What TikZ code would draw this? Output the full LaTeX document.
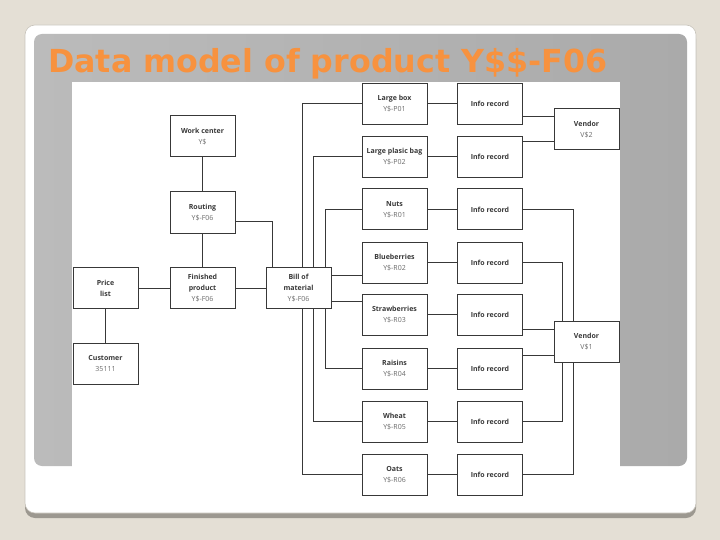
\documentclass[tikz,border=0pt]{standalone}
\usepackage{fontspec}
\setmainfont{Open Sans}
\newfontfamily\titlefont{DejaVu Sans}
\usepackage{xcolor}
\usepackage{tikz}

\definecolor{pagebg}{HTML}{E4DFD5}
\definecolor{cardshadow}{HTML}{9C9890}
\definecolor{cardline}{HTML}{C8C4BC}
\definecolor{panelL}{HTML}{BBBBBB}
\definecolor{panelM}{HTML}{D0D0D0}
\definecolor{panelR}{HTML}{AAAAAA}
\definecolor{titleorange}{HTML}{F7923F}
\definecolor{linec}{HTML}{383838}
\definecolor{subgray}{HTML}{6A6A6A}

\newcommand{\twoline}[2]{{\bfseries #1}\\{\color{subgray}#2}}

\begin{document}
\begin{tikzpicture}[x=1pt,y=-1pt,
  box/.style={draw=linec, line width=1pt, fill=white, minimum width=65pt,
    minimum height=41pt, inner sep=1pt, align=center, text=linec,
    font=\fontsize{7}{11}\selectfont},
  wire/.style={draw=linec, line width=1pt}]
  \useasboundingbox (0,0) rectangle (720,540);

  % slide backdrop
  \fill[pagebg] (0,0) rectangle (720,540);
  \fill[cardshadow, rounded corners=10pt] (25,29) rectangle (696,518);
  \fill[white, rounded corners=10pt] (25,25) rectangle (696,513);
  \draw[cardline, line width=0.6pt, rounded corners=10pt] (25,25) rectangle (696,513);
  \shade[rounded corners=8pt, left color=panelL, middle color=panelM, right color=panelR]
    (34,34) rectangle (687,466);
  \fill[white] (72,82) rectangle (620,500);

  \node[anchor=base west, inner sep=0, text=titleorange, font=\titlefont\bfseries\fontsize{31.7}{32}\selectfont]
    (T) at (48,73) {Data model of product Y\$\$-F06};

  % left part
  \node[box] (WC) at (202.5,136.5) {\twoline{Work center}{Y\$}};
  \node[box] (RT) at (202.5,212.5) {\twoline{Routing}{Y\$-F06}};
  \node[box] (FP) at (202.5,288) {{\bfseries Finished}\\{\bfseries product}\\{\color{subgray}Y\$-F06}};
  \node[box] (PL) at (105.5,288) {{\bfseries Price}\\{\bfseries list}};
  \node[box] (CU) at (105.5,363.5) {\twoline{Customer}{35111}};
  \node[box] (BOM) at (298.5,288) {{\bfseries Bill of}\\{\bfseries material}\\{\color{subgray}Y\$-F06}};

  % materials
  \node[box] (LB) at (394.5,104) {\twoline{Large box}{Y\$-P01}};
  \node[box] (LPB) at (394.5,157) {\twoline{Large plasic bag}{Y\$-P02}};
  \node[box] (NUT) at (394.5,209.5) {\twoline{Nuts}{Y\$-R01}};
  \node[box] (BLU) at (394.5,262.5) {\twoline{Blueberries}{Y\$-R02}};
  \node[box] (STR) at (394.5,314.5) {\twoline{Strawberries}{Y\$-R03}};
  \node[box] (RAI) at (394.5,368.5) {\twoline{Raisins}{Y\$-R04}};
  \node[box] (WHE) at (394.5,421.5) {\twoline{Wheat}{Y\$-R05}};
  \node[box] (OAT) at (394.5,474.5) {\twoline{Oats}{Y\$-R06}};

  % info records
  \node[box] (IR1) at (490,104) {\bfseries Info record};
  \node[box] (IR2) at (490,157) {\bfseries Info record};
  \node[box] (IR3) at (490,209.5) {\bfseries Info record};
  \node[box] (IR4) at (490,262.5) {\bfseries Info record};
  \node[box] (IR5) at (490,314.5) {\bfseries Info record};
  \node[box] (IR6) at (490,368.5) {\bfseries Info record};
  \node[box] (IR7) at (490,421.5) {\bfseries Info record};
  \node[box] (IR8) at (490,474.5) {\bfseries Info record};

  % vendors
  \node[box] (VS2) at (586.5,129.5) {\twoline{Vendor}{V\$2}};
  \node[box] (VS1) at (586.5,341.5) {\twoline{Vendor}{V\$1}};

  % connectors
  \draw[wire] (WC) -- (RT);
  \draw[wire] (RT) -- (FP);
  \draw[wire] (PL) -- (FP);
  \draw[wire] (PL) -- (CU);
  \draw[wire] (FP) -- (BOM);
  \draw[wire] ([yshift=-9.5pt]RT.east) -| ([xshift=-26.5pt]BOM.north);

  \draw[wire] ([xshift=3.5pt]BOM.north) |- (LB.west);
  \draw[wire] ([xshift=14.5pt]BOM.north) |- (LPB.west);
  \draw[wire] ([xshift=26.5pt]BOM.north) |- (NUT.west);
  \draw[wire] ([yshift=13pt]BOM.east) coordinate (B1) -- (B1 -| BLU.west);
  \draw[wire] ([yshift=-13pt]BOM.east) coordinate (B2) -- (B2 -| STR.west);
  \draw[wire] ([xshift=26.5pt]BOM.south) |- (RAI.west);
  \draw[wire] ([xshift=14.5pt]BOM.south) |- (WHE.west);
  \draw[wire] ([xshift=3.5pt]BOM.south) |- (OAT.west);

  \draw[wire] (LB) -- (IR1);
  \draw[wire] (LPB) -- (IR2);
  \draw[wire] (NUT) -- (IR3);
  \draw[wire] (BLU) -- (IR4);
  \draw[wire] (STR) -- (IR5);
  \draw[wire] (RAI) -- (IR6);
  \draw[wire] (WHE) -- (IR7);
  \draw[wire] (OAT) -- (IR8);

  \draw[wire] ([yshift=-13pt]IR1.east) coordinate (V1) -- (V1 -| VS2.west);
  \draw[wire] ([yshift=15pt]IR2.east) coordinate (V2) -- (V2 -| VS2.west);
  \draw[wire] (IR3.east) -| ([xshift=-13.5pt]VS1.north);
  \draw[wire] (IR4.east) -| ([xshift=-24.5pt]VS1.north);
  \draw[wire] ([yshift=-14.5pt]IR5.east) coordinate (V5) -- (V5 -| VS1.west);
  \draw[wire] ([yshift=13.5pt]IR6.east) coordinate (V6) -- (V6 -| VS1.west);
  \draw[wire] (IR7.east) -| ([xshift=-24.5pt]VS1.south);
  \draw[wire] (IR8.east) -| ([xshift=-13.5pt]VS1.south);
\end{tikzpicture}
\end{document}
